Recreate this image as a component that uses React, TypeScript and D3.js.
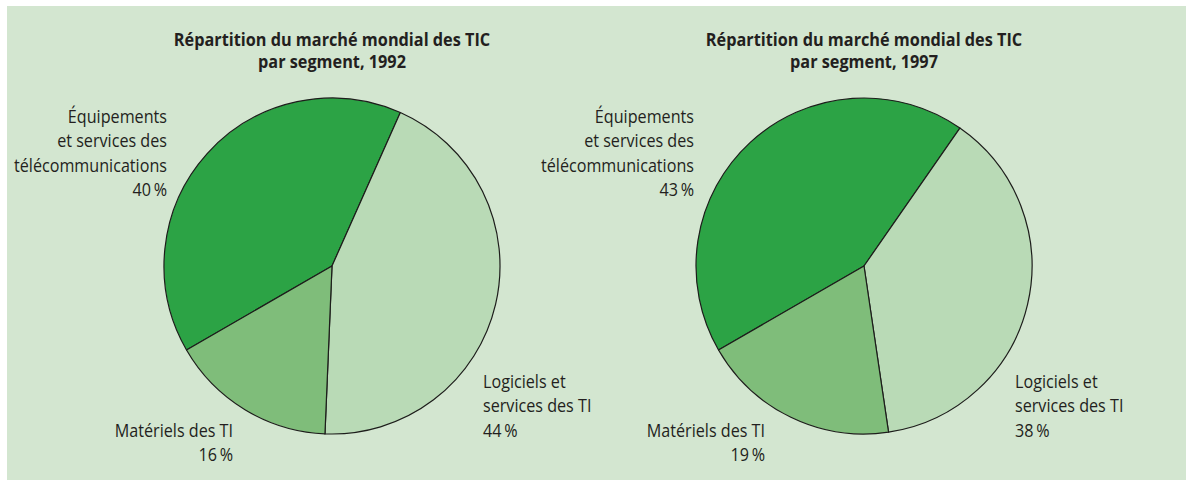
import { useMemo } from "react";
import * as d3 from "d3";

const segments = ["telecom", "logiciels", "materiels"];
const values1992 = [40, 44, 16];
const values1997 = [43, 38, 19];
const years = [1992, 1997];
const titleLine1 = "Répartition du marché mondial des TIC";
const titleLine2 = "par segment, ";
const labelLines = [
  ["Équipements", "et services des", "télécommunications"],
  ["Logiciels et", "services des TI"],
  ["Matériels des TI"],
];

const width = 1186;
const height = 483;
const radius = 168;
const centersX = [332, 864];
const centerY = 266;

const colors = ["#2ca345", "#b9dab6", "#7fbd7a"];
const bg = "#d3e6d0";
const ink = "#231f20";
const fontFamily = "'Liberation Sans Narrow', 'Open Sans', sans-serif";
// the original face is a condensed sans, so squeeze the glyphs a little
const titleSqueeze = 0.93;
const labelSqueeze = 0.85;

// where each label block sits relative to the pie centre
const labelPos = [
  { dx: [-165, -170], y: 123, anchor: "end" },
  { dx: [151, 151], y: 388, anchor: "start" },
  { dx: [-99, -99], y: 437, anchor: "end" },
];
const lineH = 24.5;

const pie = d3
  .pie<number>()
  .sort(null)
  .startAngle((240 * Math.PI) / 180)
  .endAngle((600 * Math.PI) / 180);

const arc = d3.arc<d3.PieArcDatum<number>>().innerRadius(0).outerRadius(radius);

const Pie = ({ values, year, i }: { values: number[]; year: number; i: number }) => {
  const arcs = useMemo(() => pie(values), [values]);
  const cx = centersX[i];
  return (
    <g>
      <g transform={`translate(${cx},46) scale(${titleSqueeze},1)`}>
        <text textAnchor="middle" fontWeight="bold" fontSize={17.5} fill={ink}>
          <tspan x={0} y={0}>
            {titleLine1}
          </tspan>
          <tspan x={0} y={22}>
            {titleLine2 + year}
          </tspan>
        </text>
      </g>
      <g transform={`translate(${cx},${centerY})`}>
        {arcs.map((a, k) => (
          <path
            key={segments[k]}
            d={arc(a) || ""}
            fill={colors[k]}
            stroke="#1d1d1b"
            strokeWidth={1.2}
            strokeLinejoin="round"
          />
        ))}
      </g>
      {labelLines.map((lines, k) => {
        const p = labelPos[k];
        const x = cx + p.dx[i];
        const all = [...lines, `${values[k]}\u2009%`];
        return (
          <g key={k} transform={`translate(${x},${p.y}) scale(${labelSqueeze},1)`}>
            <text textAnchor={p.anchor} fontSize={19} fill={ink}>
              {all.map((t, j) => (
                <tspan key={j} x={0} y={j * lineH}>
                  {t}
                </tspan>
              ))}
            </text>
          </g>
        );
      })}
    </g>
  );
};

export default function App() {
  return (
    <svg
      width={width}
      height={height}
      style={{ position: "absolute", left: 0, top: 0, fontFamily }}
    >
      <rect x={0} y={0} width={width} height={height} fill="#ffffff" />
      <rect x={7} y={6} width={width - 7} height={474} fill={bg} />
      <Pie values={values1992} year={years[0]} i={0} />
      <Pie values={values1997} year={years[1]} i={1} />
    </svg>
  );
}
